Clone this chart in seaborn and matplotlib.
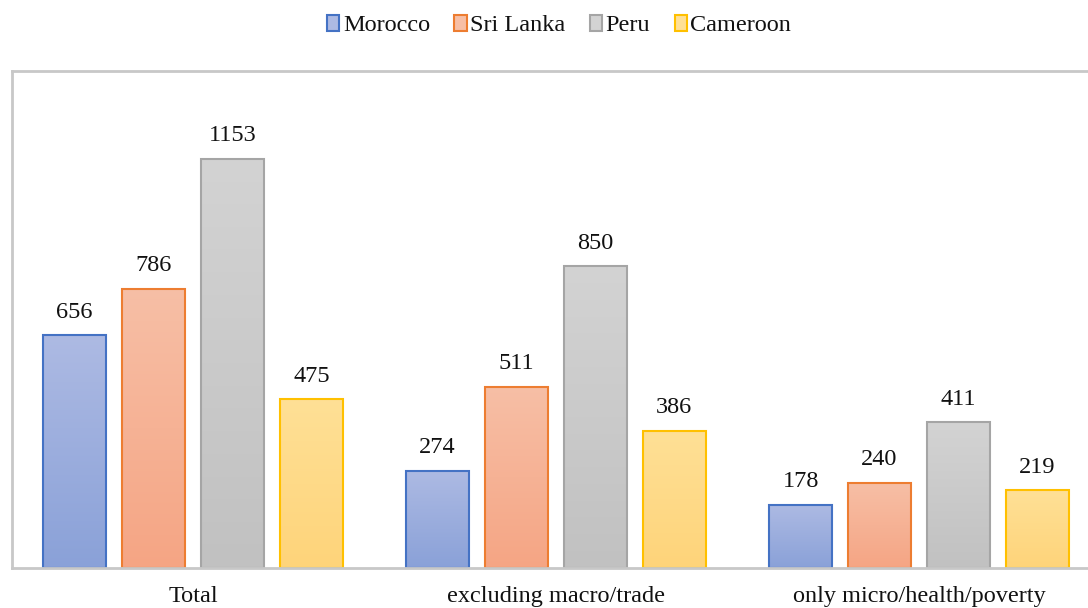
import numpy as np
import pandas as pd
import matplotlib
matplotlib.use("Agg")
import matplotlib.pyplot as plt
import seaborn as sns
from matplotlib.colors import LinearSegmentedColormap
from matplotlib.patches import Patch

categories = ["Total", "excluding macro/trade", "only micro/health/poverty"]
countries = ["Morocco", "Sri Lanka", "Peru", "Cameroon"]
morocco = [656, 274, 178]
sri_lanka = [786, 511, 240]
peru = [1153, 850, 411]
cameroon = [475, 386, 219]

edge_colors = ["#4472C4", "#ED7D31", "#A5A5A5", "#FFC000"]
top_colors = ["#ADBAE3", "#F7BFA6", "#D3D3D3", "#FFE096"]
bottom_colors = ["#8AA1D8", "#F5A584", "#C1C1C1", "#FED47A"]

sns.set_theme(style="white")
plt.rcParams["font.family"] = ["Liberation Serif", "DejaVu Serif"]

FS = 17.5

df = pd.DataFrame({
    "category": categories * 4,
    "country": sum([[c] * len(categories) for c in countries], []),
    "value": morocco + sri_lanka + peru + cameroon,
})

fig = plt.figure(figsize=(10.88, 6.08), dpi=100)
ax = fig.add_axes([11.5 / 1088, 40 / 608, 1089 / 1088, 497 / 608])

sns.barplot(data=df, x="category", y="value", hue="country",
            order=categories, hue_order=countries,
            palette=edge_colors, width=0.87, gap=0.2, ax=ax,
            legend=False, errorbar=None)

for i, cont in enumerate(ax.containers):
    cmap = LinearSegmentedColormap.from_list("g", [bottom_colors[i], top_colors[i]])
    grad = np.linspace(0, 1, 256).reshape(-1, 1)
    for bar in cont:
        x0, w, h = bar.get_x(), bar.get_width(), bar.get_height()
        ax.imshow(grad, cmap=cmap, origin="lower", aspect="auto",
                  extent=(x0, x0 + w, 0, h), zorder=1.5)
        bar.set_facecolor("none")
        bar.set_edgecolor(edge_colors[i])
        bar.set_linewidth(1.5)
        bar.set_zorder(2)
    ax.bar_label(cont, labels=[str(int(b.get_height())) for b in cont],
                 padding=9, fontsize=FS, color="#111111")

ax.set_xlim(-0.5, 2.5)
ax.set_ylim(0, 1400)
ax.set_xlabel("")
ax.set_ylabel("")
ax.set_yticks([])
ax.tick_params(axis="x", length=0, pad=13, labelsize=FS, labelcolor="#111111")
for s in ax.spines.values():
    s.set_color("#C8C8C8")
    s.set_linewidth(2)

handles = [Patch(facecolor=top_colors[i], edgecolor=edge_colors[i], linewidth=1.5, label=countries[i])
           for i in range(4)]
fig.legend(handles=handles, loc="center", bbox_to_anchor=(0.514, 0.958), ncol=4,
           frameon=False, fontsize=FS, handlelength=0.5, handleheight=0.65,
           handletextpad=0.15, columnspacing=1.0, labelcolor="#111111")

fig.savefig("out.png", dpi=100)
